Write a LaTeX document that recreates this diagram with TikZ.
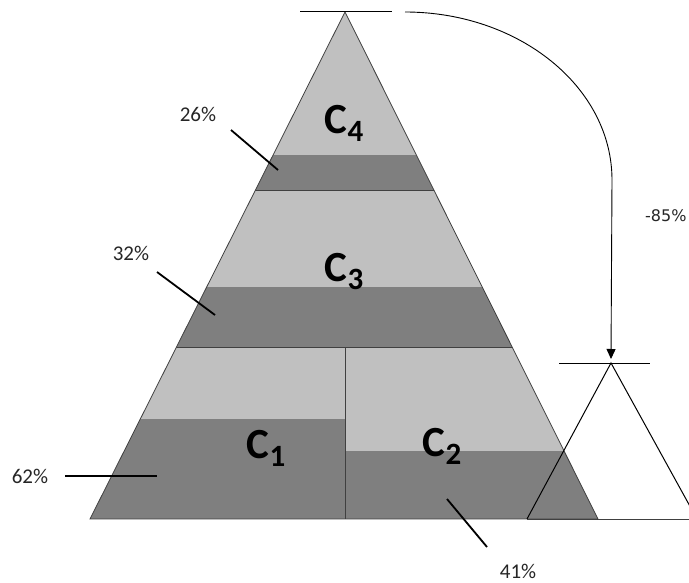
\documentclass[tikz,border=0pt]{standalone}
\usepackage{fontspec}
\setmainfont{Carlito}
\newfontfamily\dvsfont{DejaVu Sans}
\usetikzlibrary{arrows.meta}
\definecolor{lgray}{HTML}{C0C0C0}
\definecolor{dgray}{HTML}{7F7F7F}
\definecolor{edgec}{HTML}{404040}
\newcommand\csub[1]{\raisebox{-8pt}{\fontsize{31}{31}\selectfont #1}}
\begin{document}
\begin{tikzpicture}[x=1pt,y=-1pt,
  clabel/.style={font=\fontsize{43}{43}\selectfont\bfseries, inner sep=0pt, anchor=base, text=black},
  pct/.style={font=\fontsize{21}{21}\selectfont, inner sep=0pt, text=black!85},
  leader/.style={line width=1.8pt, black},
  thinline/.style={line width=0.8pt, edgec},
  blackline/.style={line width=1pt, black}]
\useasboundingbox (0,0) rectangle (689,583);
% main triangle
\coordinate (apex) at (345,12);
\coordinate (bl) at (90,519);
\coordinate (br) at (598,519);
\begin{scope}
  \clip (apex) -- (bl) -- (br) -- cycle;
  \fill[lgray] (0,12) rectangle (689,155);
  \fill[dgray] (0,155) rectangle (689,190);
  \fill[lgray] (0,190) rectangle (689,287);
  \fill[dgray] (0,287) rectangle (689,347);
  \fill[lgray] (0,347) rectangle (345,419);
  \fill[dgray] (0,419) rectangle (345,519);
  \fill[lgray] (345,347) rectangle (689,451);
  \fill[dgray] (345,451) rectangle (689,519);
  \draw[thinline] (0,190) -- (689,190);
  \draw[thinline] (0,347) -- (689,347);
  \draw[thinline] (345,347) -- (345,519);
\end{scope}
\draw[thinline] (apex) -- (bl) -- (br) -- cycle;
% top line
\coordinate (tl1) at (300,12);
\coordinate (tl2) at (392,12);
\draw[blackline] (tl1) -- (tl2);
% small triangle
\coordinate (sapex) at (611,363);
\coordinate (sbl) at (527,519);
\coordinate (sbr) at (697,519);
\coordinate (sl1) at (559,363);
\coordinate (sl2) at (650,363);
\draw[blackline] (sl1) -- (sl2);
\draw[blackline] (sbl) -- (sapex) -- (sbr);
\coordinate (base1) at (598,519);
\coordinate (base2) at (689,519);
\draw[thinline] (base1) -- (base2);
\draw[thinline] (sbl) -- (br);
% arrow
\coordinate (arrS) at (405,12);
\coordinate (arrE) at (611,359);
\draw[line width=0.9pt, black, -{Triangle[length=10pt,width=9pt]}] (arrS) .. controls (519,12) and (612,87) .. (612,180) -- (arrE);
% labels
\node[clabel] (c4) at (344,134) {C\csub{4}};
\node[clabel] (c3) at (344,282) {C\csub{3}};
\node[clabel] (c1) at (266,458) {C\csub{1}};
\node[clabel] (c2) at (442,456) {C\csub{2}};
% percentages
\node[pct] (p26) at (198,114) {26\%};
\node[pct] (p32) at (131,253) {32\%};
\node[pct] (p62) at (30,476) {62\%};
\node[pct] (p41) at (518,571) {41\%};
\node[font=\dvsfont\fontsize{16}{16}\selectfont, inner sep=0pt, anchor=west, text=black!85] (p85) at (645,216) {-85\%};
% leaders
\coordinate (l26a) at (231,130); \coordinate (l26b) at (278,170);
\coordinate (l32a) at (157,272); \coordinate (l32b) at (215,315);
\coordinate (l62a) at (65,476);  \coordinate (l62b) at (157,476);
\coordinate (l41a) at (447,499); \coordinate (l41b) at (487,547);
\draw[leader] (l26a) -- (l26b);
\draw[leader] (l32a) -- (l32b);
\draw[leader] (l62a) -- (l62b);
\draw[leader] (l41a) -- (l41b);
\end{tikzpicture}
\end{document}
